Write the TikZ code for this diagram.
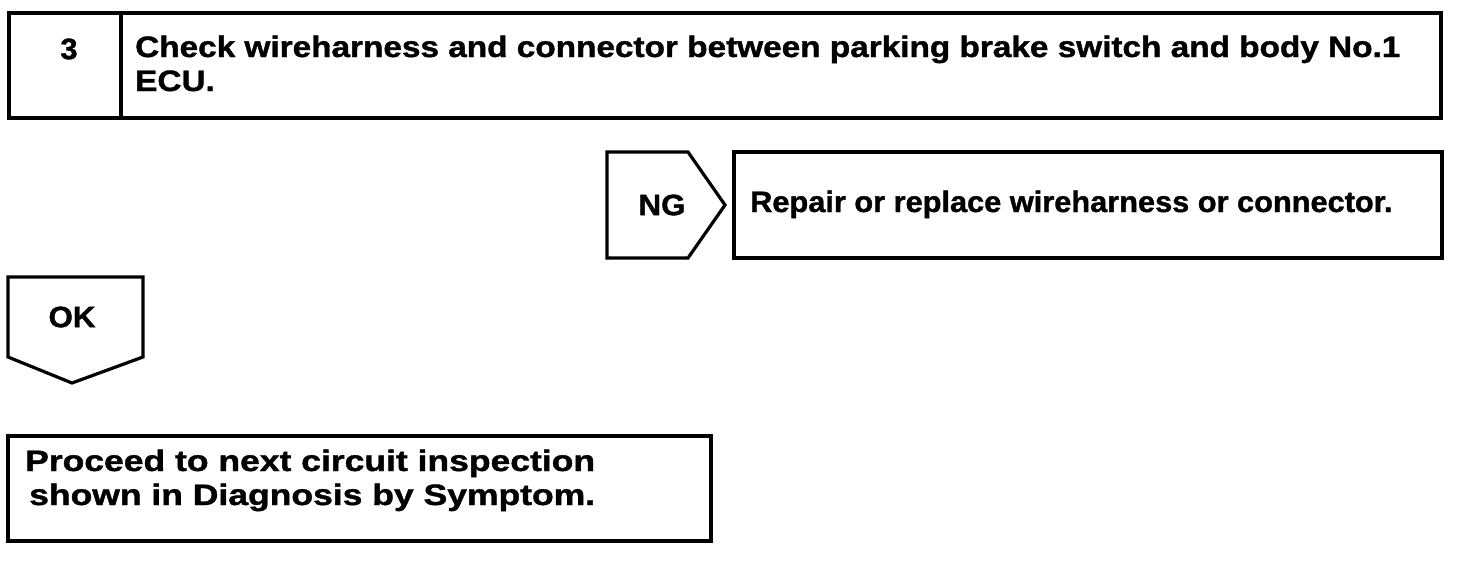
\documentclass[tikz,border=0pt]{standalone}
\usepackage{fontspec}
\usepackage{graphicx}
\setmainfont[BoldFeatures={FakeBold=1.2}]{Liberation Sans}
\begin{document}
\begin{tikzpicture}[x=1pt,y=-1pt,
  frame/.style={draw=black,line width=3.2pt,line join=miter},
  lbl/.style={inner sep=0pt,font=\bfseries\fontsize{29.5}{35}\selectfont}]
\useasboundingbox (0,0) rectangle (1472,560);
% top box
\draw[frame] (9,13) rectangle (1441,118);
\draw[frame] (121,13) -- (121,118);
\node[lbl] (num) at (69,49) {\scalebox{1.05}[1]{3}};
\node[lbl,anchor=base west] (check1) at (135,57) {\scalebox{1.13}[1]{Check wireharness and connector between parking brake switch and body No.1}};
\node[lbl,anchor=base west] (check2) at (135,91) {\scalebox{1.13}[1]{ECU.}};
% NG
\draw[frame] (607,152) -- (688,152) -- (725,205) -- (688,258) -- (607,258) -- cycle;
\node[lbl] (ng) at (662,205) {\scalebox{1.06}[1]{NG}};
\draw[frame] (734,152) rectangle (1442,258);
\node[lbl,anchor=base west] (repair) at (750,212) {\scalebox{1.042}[1]{Repair or replace wireharness or connector.}};
% OK
\draw[frame] (8,277) -- (143,277) -- (143,357) -- (72,383) -- (8,357) -- cycle;
\node[lbl] (ok) at (72,317) {\scalebox{1.06}[1]{OK}};
% bottom box
\draw[frame] (8,436) rectangle (711,541);
\node[lbl,anchor=base west] (proc1) at (25,471) {\scalebox{1.203}[1]{Proceed to next circuit inspection}};
\node[lbl,anchor=base west] (proc2) at (29,505) {\scalebox{1.203}[1]{shown in Diagnosis by Symptom.}};
\end{tikzpicture}
\end{document}
